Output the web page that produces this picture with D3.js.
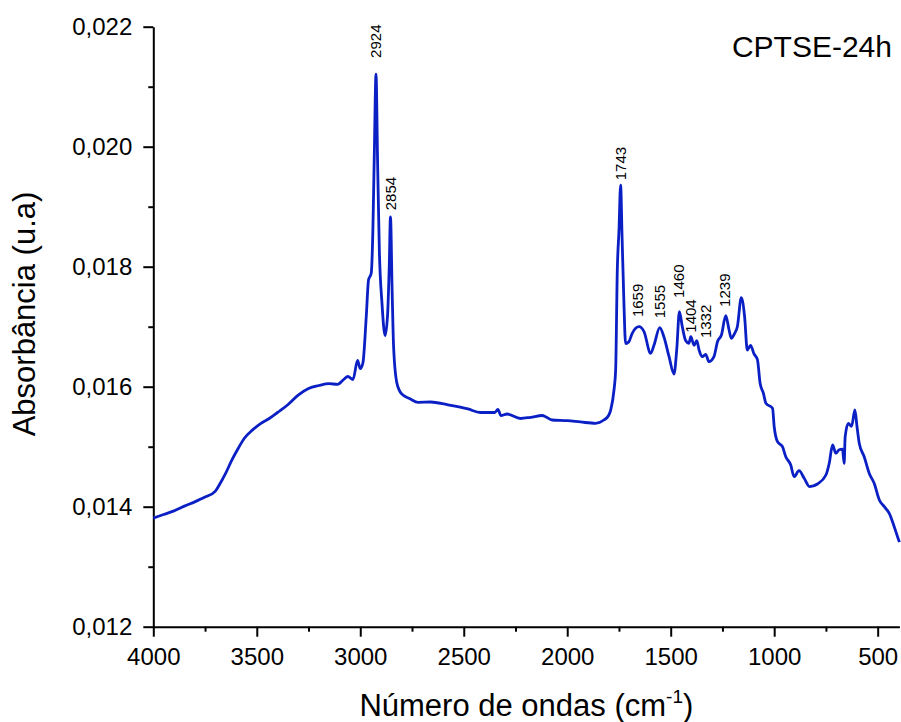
<!DOCTYPE html>
<html>
<head>
<meta charset="utf-8">
<script src="https://cdn.jsdelivr.net/npm/d3@7"></script>
<style>
  html, body { margin: 0; padding: 0; background: #fff; }
  svg { display: block; font-family: "Liberation Sans", Arial, sans-serif; }
</style>
</head>
<body>
<svg id="chart" width="901" height="722"></svg>
<script>
// FTIR spectrum
const waveNumbers = [
  4000, 3950, 3900, 3850, 3800, 3750, 3700, 3680, 3650, 3620, 3590, 3560, 3520, 3480, 3440, 3400,
  3350, 3300, 3250, 3200, 3150, 3110, 3080, 3060, 3035, 3013, 3000, 2987, 2971, 2960, 2947, 2939,
  2932, 2924, 2916, 2908, 2895, 2880, 2868, 2860, 2854, 2846, 2839, 2823, 2800, 2760, 2720, 2660,
  2580, 2480, 2420, 2350, 2335, 2320, 2290, 2226, 2177, 2120, 2105, 2073, 2000, 1936, 1863, 1823,
  1800, 1790, 1774, 1766, 1758, 1750, 1742, 1735, 1726, 1718, 1702, 1686, 1653, 1629, 1597, 1581,
  1553, 1533, 1508, 1484, 1471, 1458, 1444, 1428, 1412, 1403, 1387, 1374, 1363, 1347, 1331, 1315,
  1291, 1274, 1255, 1234, 1218, 1207, 1191, 1178, 1159, 1143, 1130, 1114, 1098, 1081, 1068, 1052,
  1040, 1008, 1000, 984, 960, 944, 920, 904, 880, 855, 828, 791, 750, 734, 718, 702,
  686, 670, 662, 657, 642, 626, 610, 600, 589, 565, 541, 517, 492, 468, 444, 420,
  404, 395
];
const absorbance = [
  0.01381, 0.01387, 0.01393, 0.01401, 0.01408, 0.01416, 0.01426, 0.01437, 0.01456, 0.01478, 0.01497, 0.01514, 0.01528, 0.01539, 0.01547, 0.01557,
  0.01570, 0.01586, 0.01597, 0.01602, 0.01605, 0.01604, 0.01612, 0.01617, 0.01612, 0.01644, 0.01630, 0.01640, 0.01717, 0.01778, 0.01789, 0.01861,
  0.01990, 0.02121, 0.01970, 0.01830, 0.01739, 0.01685, 0.01720, 0.01800, 0.01883, 0.01760, 0.01667, 0.01606, 0.01588, 0.01580, 0.01574, 0.015745,
  0.01570, 0.01563, 0.01557, 0.01557, 0.01562, 0.01552, 0.015545, 0.01547, 0.01549, 0.01552, 0.01550, 0.015445, 0.015434, 0.015412, 0.01539, 0.015445,
  0.01552, 0.01561, 0.015945, 0.01628, 0.01795, 0.01860, 0.01936, 0.01850, 0.01739, 0.01672, 0.01675, 0.01689, 0.01700, 0.016917, 0.016557, 0.01669,
  0.016983, 0.016833, 0.01650, 0.016212, 0.016612, 0.01725, 0.01700, 0.01677, 0.016723, 0.016833, 0.01669, 0.016767, 0.016612, 0.01650, 0.01654, 0.016417,
  0.01650, 0.01675, 0.016862, 0.017183, 0.016945, 0.016807, 0.01689, 0.01700, 0.017483, 0.017167, 0.016612, 0.01669, 0.01655, 0.01645, 0.016057, 0.01589,
  0.015723, 0.01564, 0.015333, 0.015083, 0.01500, 0.014833, 0.014695, 0.01450, 0.01460, 0.014473, 0.014333, 0.014378, 0.014528, 0.014723, 0.015028, 0.01489,
  0.01495, 0.01496, 0.014723, 0.015167, 0.01539, 0.01534, 0.015612, 0.01534, 0.015057, 0.014833, 0.014557, 0.01439, 0.014112, 0.01400, 0.01389, 0.013667,
  0.01350, 0.01341
];

// peak annotations: wavenumber + the absorbance level where the label starts
const peakLabels = [2924, 2854, 1743, 1659, 1555, 1460, 1404, 1332, 1239];
const peakLabelLevel = [0.02148, 0.01894, 0.01944, 0.01716, 0.01714, 0.01748, 0.01690, 0.01681, 0.01733];

const xTicks = [4000, 3500, 3000, 2500, 2000, 1500, 1000, 500];
const xMinorTicks = [3750, 3250, 2750, 2250, 1750, 1250, 750];
const yTicks = [0.012, 0.014, 0.016, 0.018, 0.020, 0.022];
const yMinorTicks = [0.013, 0.015, 0.017, 0.019, 0.021];

const sampleName = 'CPTSE-24h';

const svg = d3.select('#chart');
const plotLeft = 153.3, plotRight = 899.4, plotTop = 26.7, plotBottom = 626.7;

const x = d3.scaleLinear().domain([4000, 395]).range([plotLeft, plotRight]);
const y = d3.scaleLinear().domain([0.012, 0.022]).range([plotBottom, plotTop]);

const fmtY = (d) => d3.format('.3f')(d).replace('.', ',');

// axes
const gx = svg.append('g').attr('transform', `translate(0,${plotBottom})`);
gx.call(d3.axisBottom(x).tickValues(xTicks).tickSize(10).tickSizeOuter(0).tickPadding(11).tickFormat(d3.format('d')));
gx.append('g').call(d3.axisBottom(x).tickValues(xMinorTicks).tickSize(5).tickFormat(''))
  .select('.domain').remove();

const gy = svg.append('g').attr('transform', `translate(${plotLeft},0)`);
gy.call(d3.axisLeft(y).tickValues(yTicks).tickSize(10).tickSizeOuter(0).tickPadding(11).tickFormat(fmtY));
gy.append('g').call(d3.axisLeft(y).tickValues(yMinorTicks).tickSize(5).tickFormat(''))
  .select('.domain').remove();

svg.selectAll('.domain').attr('stroke', '#000').attr('stroke-width', 2);
svg.selectAll('.tick line').attr('stroke', '#000').attr('stroke-width', 2);
svg.selectAll('.tick text').attr('font-size', 24).attr('fill', '#000').attr('font-family', 'Liberation Sans, Arial, sans-serif');

// spectrum
const pts = waveNumbers.map((w, i) => [w, absorbance[i]]);
const line = d3.line()
  .x((d) => x(d[0]))
  .y((d) => y(d[1]))
  .curve(d3.curveMonotoneX);

svg.append('path')
  .datum(pts)
  .attr('d', line)
  .attr('fill', 'none')
  .attr('stroke', '#0a1fc4')
  .attr('stroke-width', 2.8)
  .attr('stroke-linejoin', 'round');

// peak labels
svg.append('g')
  .selectAll('text')
  .data(peakLabels)
  .join('text')
  .attr('transform', (d, i) => `translate(${x(d)},${y(peakLabelLevel[i])}) rotate(-90)`)
  .attr('dy', '0.35em')
  .attr('font-size', 15)
  .attr('fill', '#000')
  .text((d) => d);

// sample name
svg.append('text')
  .attr('x', 892)
  .attr('y', 57)
  .attr('text-anchor', 'end')
  .attr('font-size', 30)
  .attr('fill', '#000')
  .text(sampleName);

// axis titles
const xTitle = svg.append('text')
  .attr('x', (plotLeft + plotRight) / 2)
  .attr('y', 716)
  .attr('text-anchor', 'middle')
  .attr('font-size', 31)
  .attr('fill', '#000');
xTitle.append('tspan').text('Número de ondas (cm');
xTitle.append('tspan').attr('font-size', 19).attr('dy', -13).text('-1');
xTitle.append('tspan').attr('dy', 13).text(')');

svg.append('text')
  .attr('transform', 'translate(35,314) rotate(-90)')
  .attr('text-anchor', 'middle')
  .attr('font-size', 31)
  .attr('fill', '#000')
  .text('Absorbância (u.a)');
</script>
</body>
</html>
